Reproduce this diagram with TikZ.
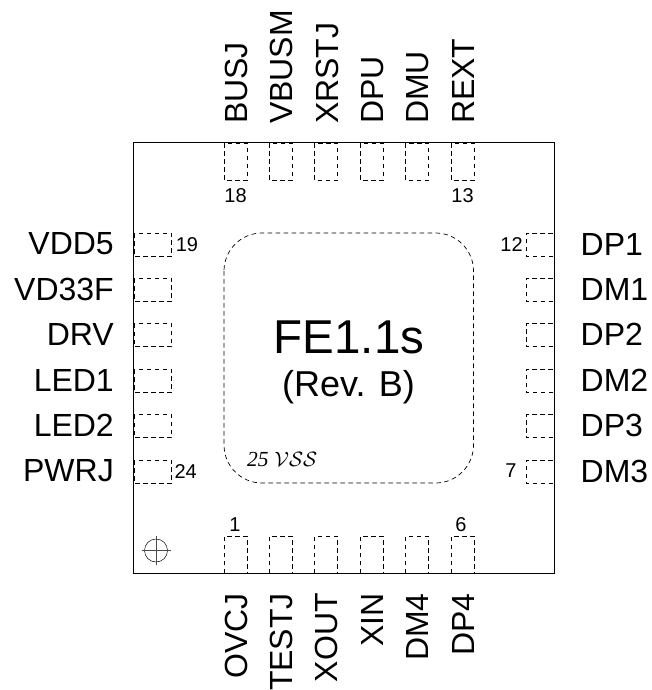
\documentclass[tikz,border=0pt]{standalone}
\usepackage{fontspec}
\usepackage{amsmath}
\setmainfont{Liberation Sans}
\newfontfamily\vssfont{Liberation Serif}
\usetikzlibrary{positioning}
\tikzset{
  padline/.style={line width=0.7pt, dash pattern=on 4.5pt off 3.5pt},
  pinname/.style={font=\fontsize{32}{32}\selectfont, inner sep=0pt},
  pinnum/.style={font=\fontsize{20}{20}\selectfont, inner sep=0pt}
}

\begin{document}
\begin{tikzpicture}[x=1pt, y=-1pt]
    \useasboundingbox (0, 0) rectangle (651, 690);

    % package outline
    \draw [line width=1.2pt] (133.5, 142.5) rectangle (554.5, 573.5);
    \draw [padline, rounded corners=38pt] (224, 233) rectangle (473.5, 483);

    % top and bottom pads
    \foreach \i/\tname/\bname in {0/BUSJ/OVCJ, 1/VBUSM/TESTJ, 2/XRSTJ/XOUT, 3/DPU/XIN, 4/DMU/DM4, 5/REXT/DP4} {
      \pgfmathsetmacro{\px}{224 + 45.4*\i}
      \draw [padline] (\px, 143) rectangle (\px + 23, 180);
      \draw [padline] (\px, 573) rectangle (\px + 23, 536);
      \node [pinname, rotate=90, anchor=west] (top\i) at (\px + 12.5, 124) {\tname};
      \node [pinname, rotate=90, anchor=east] (bot\i) at (\px + 12, 593) {\bname};
    }

    % left and right pads
    \foreach \i/\lname/\rname in {0/VDD5/DP1, 1/VD33F/DM1, 2/DRV/DP2, 3/LED1/DM2, 4/LED2/DP3, 5/PWRJ/DM3} {
      \pgfmathsetmacro{\py}{233 + 45.4*\i}
      \draw [padline] (134, \py) rectangle (171.5, \py + 23);
      \draw [padline] (554, \py) rectangle (526, \py + 23);
      \node [pinname, anchor=east] (left\i) at (114, \py + 11) {\lname};
      \node [pinname, anchor=west] (right\i) at (580.5, \py + 11) {\rname};
    }

    % pin numbers
    \node [pinnum] (n18) at (235.5, 196) {18};
    \node [pinnum] (n13) at (462.5, 196) {13};
    \node [pinnum] (n19) at (187, 245) {19};
    \node [pinnum] (n24) at (185.7, 472) {24};
    \node [pinnum] (n12) at (511.5, 245) {12};
    \node [pinnum] (n7) at (511, 471) {7};
    \node [pinnum] (n1) at (235, 525) {1};
    \node [pinnum] (n6) at (461, 525) {6};

    % die text
    \node [inner sep=0pt, font=\fontsize{47.5}{48}\selectfont] (name) at (349, 337) {FE1.1s};
    \node [inner sep=0pt, font=\fontsize{36}{36}\selectfont] (rev) at (348.5, 387) {(Rev. B)};
    \node [inner sep=0pt, font=\fontsize{21.5}{22}\selectfont, anchor=west] (vss) at (247, 459) {{\vssfont\itshape 25} $\mathcal{VSS}$};

    % pin one mark
    \draw [line width=0.5pt] (156, 550.5) circle (11.5);
    \draw [line width=0.7pt, black!70] (141.5, 550.5) -- (170.5, 550.5);
    \draw [line width=0.7pt, black!70] (156, 536) -- (156, 565);
  \end{tikzpicture}
\end{document}
